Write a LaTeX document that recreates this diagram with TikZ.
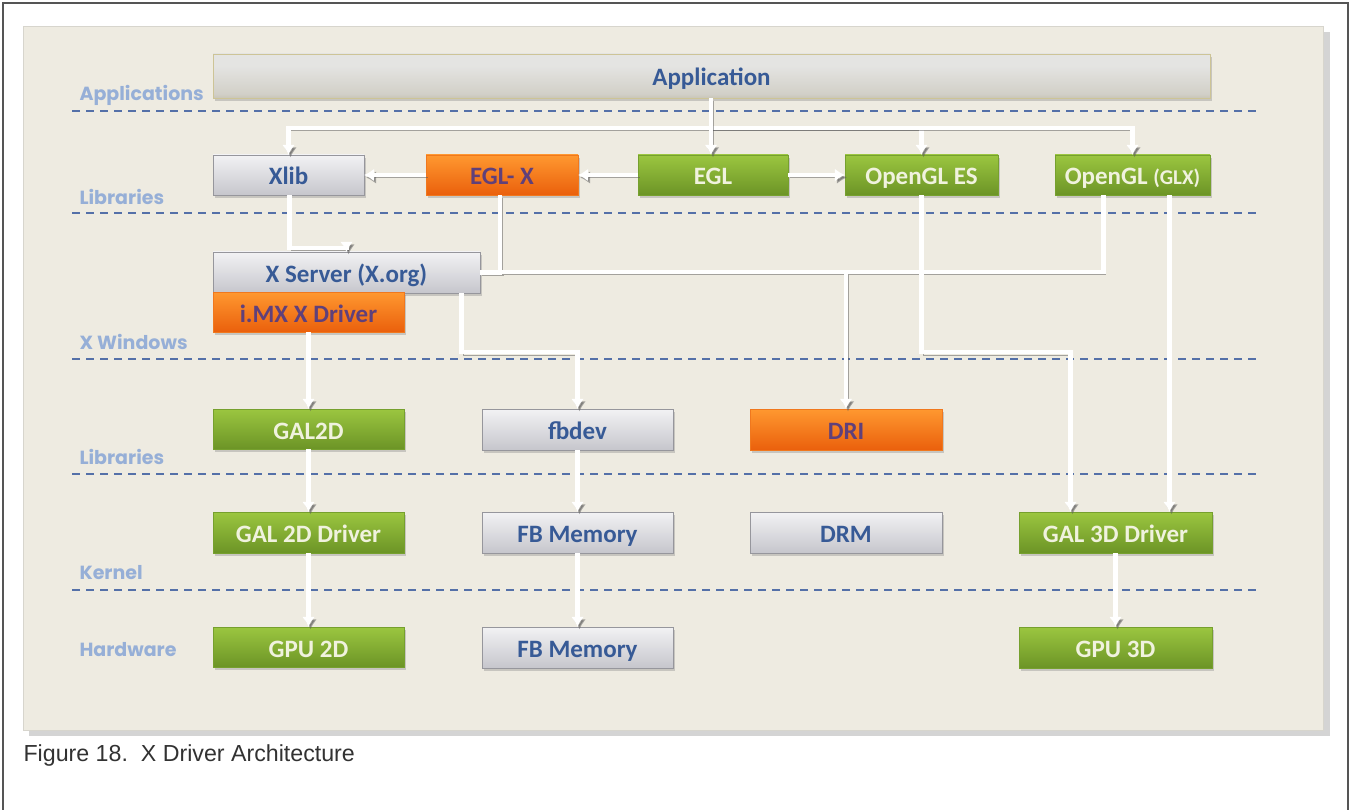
\documentclass[tikz,border=0pt]{standalone}
\usepackage{fontspec}
\setmainfont{Carlito}
\newfontfamily\layerfont{Poppins}
\newfontfamily\capfont{Liberation Sans}
\usetikzlibrary{arrows.meta,shadows}

\definecolor{panel}{RGB}{238,235,225}
\definecolor{paneledge}{RGB}{215,213,205}
\definecolor{frame}{RGB}{85,85,85}
\definecolor{sepblue}{RGB}{84,112,168}
\definecolor{layerblue}{RGB}{150,175,215}
\definecolor{boxblue}{RGB}{55,90,150}
\definecolor{graytop}{RGB}{242,242,244}
\definecolor{graybot}{RGB}{198,198,204}
\definecolor{grayedge}{RGB}{150,150,156}
\definecolor{greentop}{RGB}{155,198,64}
\definecolor{greenbot}{RGB}{108,148,38}
\definecolor{greenedge}{RGB}{118,160,46}
\definecolor{greentext}{RGB}{240,242,222}
\definecolor{orangetop}{RGB}{255,152,48}
\definecolor{orangebot}{RGB}{234,96,12}
\definecolor{orangeedge}{RGB}{240,120,30}
\definecolor{orangetext}{RGB}{96,64,122}
\definecolor{apptop}{RGB}{228,228,226}
\definecolor{appmid}{RGB}{210,208,200}
\definecolor{appbot}{RGB}{158,147,102}
\definecolor{appedge}{RGB}{205,196,150}
\definecolor{captext}{RGB}{50,50,50}

\pgfdeclareverticalshading{appshade}{100bp}{color(0bp)=(appbot); color(30bp)=(appmid);
  color(62bp)=(apptop); color(100bp)=(apptop)}

\tikzset{
  blk/.style={minimum height=40pt, inner sep=0pt, text height=22pt, text depth=2pt,
    font=\fontsize{25}{30}\selectfont\bfseries,
    drop shadow={shadow xshift=2pt, shadow yshift=-3pt, opacity=0.35}},
  graybox/.style={blk, draw=grayedge, top color=graytop, bottom color=graybot, text=boxblue},
  greenbox/.style={blk, draw=greenedge, top color=greentop, bottom color=greenbot, text=greentext},
  orangebox/.style={blk, draw=orangeedge, top color=orangetop, bottom color=orangebot, text=orangetext},
  pipe/.style={draw=white, line width=4.5pt, -{Latex[length=10pt,width=13pt]},
    preaction={draw=black!65, opacity=0.5, transform canvas={xshift=2pt,yshift=-2.5pt}}},
  wire/.style={pipe, -},
  layer/.style={anchor=west, text=layerblue, font=\layerfont\fontsize{19}{22}\selectfont\bfseries},
  sep/.style={draw=sepblue, line width=1.8pt, dash pattern=on 8pt off 6pt},
}

\begin{document}
\begin{tikzpicture}[x=1pt, y=-1pt]
\useasboundingbox (0,0) rectangle (1351,810);
\fill[white] (0,0) rectangle (1351,810);
\draw[frame, line width=2pt] (3,810) -- (3,3) -- (1348,3) -- (1348,810);

% panel
\fill[black!30, opacity=0.55] (29,32) rectangle (1330,736);
\filldraw[fill=panel, draw=paneledge] (23,26) rectangle (1323,730);

% layers
\foreach \y in {111,213,359,474,590}
  \draw[sep] (72,\y) -- (1258,\y);
\node[layer] (lapp) at (76,95) {Applications};
\node[layer] (llib) at (76,197) {Libraries};
\node[layer] (lxwin) at (76,342) {X Windows};
\node[layer] (llib2) at (76,457) {Libraries};
\node[layer] (lkern) at (76,573) {Kernel};
\node[layer] (lhw) at (76,650) {Hardware};

% boxes
\node[blk, draw=appedge, shading=appshade, text=boxblue,
      minimum width=997pt, minimum height=44pt] (app) at (711.5,76) {Application};
\node[graybox, minimum width=151pt] (xlib) at (288.5,175) {Xlib};
\node[orangebox, minimum width=152pt] (eglx) at (502,175) {EGL- X};
\node[greenbox, minimum width=150pt] (egl) at (713,175) {EGL};
\node[greenbox, minimum width=153pt] (gles) at (921.5,175) {OpenGL ES};
\node[greenbox, minimum width=155pt] (glx) at (1132.5,175) {OpenGL {\fontsize{21}{25}\selectfont(GLX)}};

\node[graybox, minimum width=267pt, minimum height=41pt] (xserver) at (346.5,272.5) {X Server (X.org)};
\node[orangebox, minimum width=191pt] (imx) at (308.5,312) {i.MX X Driver};

\node[greenbox, minimum width=191pt] (gal2d) at (308.5,429) {GAL2D};
\node[graybox, minimum width=191pt, minimum height=41pt] (fbdev) at (577.5,429.5) {fbdev};
\node[orangebox, minimum width=192pt, minimum height=41pt] (dri) at (846,429.5) {DRI};

\node[greenbox, minimum width=191pt, minimum height=41pt] (galdrv) at (308.5,532.5) {GAL 2D Driver};
\node[graybox, minimum width=191pt, minimum height=41pt] (fbmem) at (577.5,532.5) {FB Memory};
\node[graybox, minimum width=192pt, minimum height=41pt] (drm) at (846,532.5) {DRM};
\node[greenbox, minimum width=193pt, minimum height=41pt] (gal3d) at (1115.5,532.5) {GAL 3D Driver};

\node[greenbox, minimum width=191pt] (gpu2d) at (308.5,647) {GPU 2D};
\node[graybox, minimum width=191pt, minimum height=41pt] (fbhw) at (577.5,647.5) {FB Memory};
\node[greenbox, minimum width=193pt, minimum height=41pt] (gpu3d) at (1115.5,647.5) {GPU 3D};

% application fan-out
\coordinate (bus) at (711,128);
\draw[pipe] (bus) -| (xlib.north);
\draw[pipe] (bus) -| (gles.north);
\draw[pipe] (bus) -| (glx.north);
\draw[pipe] (app.south -| bus) -- (egl.north -| bus);

% libraries row
\draw[pipe] (egl.west) -- (eglx.east);
\draw[pipe] (eglx.west) -- (xlib.east);
\draw[pipe] (egl.east) -- (gles.west);

% down to X server
\draw[pipe] ([xshift=1pt]xlib.south) -- ++(0,53) -| (xserver.north);

% DRI bus
\coordinate (dribus) at (846,272);
\draw[wire] ([xshift=-2pt]eglx.south) |- ([xshift=-29pt]glx.south |- dribus) -- ([xshift=-29pt]glx.south);
\draw[wire] (xserver.east) -- (xserver.east -| eglx);
\draw[pipe] (dribus) -- (dri.north);

% X server to fbdev
\draw[pipe] ([xshift=115pt]xserver.south) -- ++(0,59) -| (fbdev.north);

% OpenGL paths to GAL 3D
\draw[pipe] (gles.south) -- ++(0,157) -| ([xshift=-45pt]gal3d.north);
\draw[pipe] ([xshift=37pt]glx.south) -- ([xshift=37pt]glx.south |- gal3d.north);

% straight drops
\draw[pipe] (imx.south) -- (gal2d.north);
\draw[pipe] (gal2d.south) -- (galdrv.north);
\draw[pipe] (galdrv.south) -- (gpu2d.north);
\draw[pipe] (fbdev.south) -- (fbmem.north);
\draw[pipe] (fbmem.south) -- (fbhw.north);
\draw[pipe] (gal3d.south) -- (gpu3d.north);

% caption
\node[anchor=west, text=captext, font=\capfont\fontsize{23.2}{28}\selectfont] (cap) at (20,755) {Figure 18.\ \ X Driver Architecture};
\end{tikzpicture}
\end{document}
